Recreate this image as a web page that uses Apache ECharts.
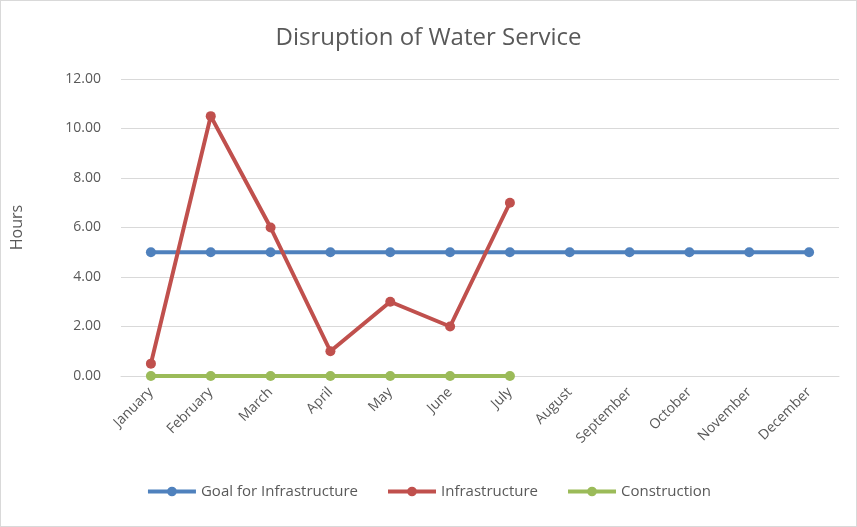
<!DOCTYPE html>
<html><head><meta charset="utf-8">
<script src="https://cdn.jsdelivr.net/npm/echarts@6/dist/echarts.min.js"></script>
<style>body{margin:0}#c{width:857px;height:527px;border:1px solid #d9d9d9;box-sizing:border-box}</style>
</head><body><div id="c"></div>
<script>
const categories=['January','February','March','April','May','June','July','August','September','October','November','December'];
const goal=[5,5,5,5,5,5,5,5,5,5,5,5];
const infrastructure=[0.5,10.5,6,1,3,2,7];
const construction=[0,0,0,0,0,0,0];
const yTicks={min:0,max:12,interval:2};
const chart=echarts.init(document.getElementById('c'));
const txt='#595959';
function s(name,data,color){return {name,type:'line',data,symbol:'circle',symbolSize:10,lineStyle:{width:4,color},itemStyle:{color},emphasis:{disabled:true}};}
chart.setOption({
 animation:false,
 title:{text:'Disruption of Water Service',left:'center',top:20,textStyle:{fontFamily:'Open Sans',fontSize:24,fontWeight:'normal',color:txt}},
 grid:{left:120,right:17,top:78,bottom:150},
 legend:{bottom:22,itemWidth:48,itemHeight:12,itemGap:28,itemStyle:{borderWidth:0},lineStyle:{width:4},textStyle:{fontFamily:'Open Sans',fontSize:15,color:txt},data:['Goal for Infrastructure','Infrastructure','Construction']},
 xAxis:{type:'category',data:categories,boundaryGap:true,axisTick:{show:false},axisLine:{lineStyle:{color:'#d9d9d9'}},axisLabel:{rotate:45,interval:0,fontFamily:'Open Sans',fontSize:14,color:txt,margin:14}},
 yAxis:{type:'value',min:yTicks.min,max:yTicks.max,interval:yTicks.interval,name:'Hours',nameLocation:'middle',nameGap:96,nameTextStyle:{fontFamily:'Open Sans',fontSize:16,color:txt},axisLabel:{formatter:v=>v.toFixed(2),fontFamily:'Open Sans',fontSize:14,color:txt,margin:20},splitLine:{lineStyle:{color:'#d9d9d9'}},axisLine:{show:false},axisTick:{show:false}},
 series:[s('Goal for Infrastructure',goal,'#4f81bd'),s('Infrastructure',infrastructure,'#c0504d'),s('Construction',construction,'#9bbb59')]
});
</script></body></html>
